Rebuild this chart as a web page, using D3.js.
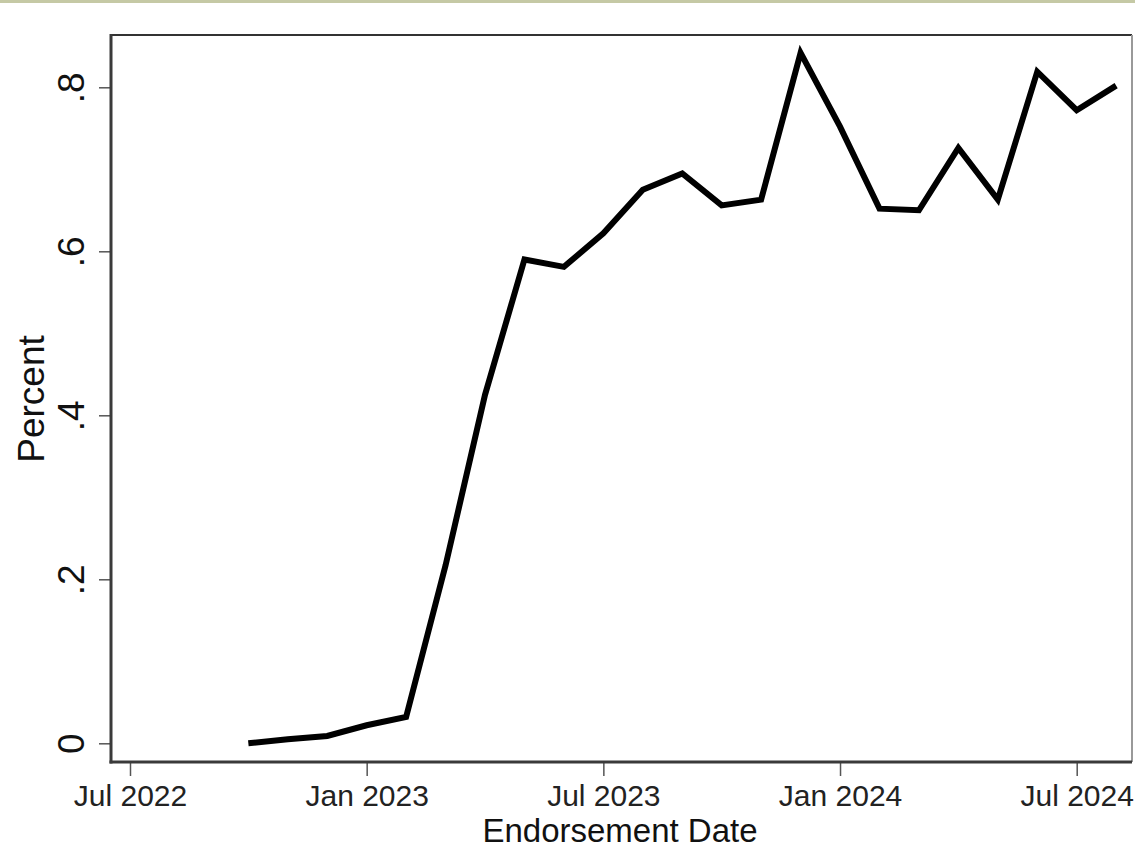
<!DOCTYPE html>
<html>
<head>
<meta charset="utf-8">
<script src="https://cdn.jsdelivr.net/npm/d3@7"></script>
<style>
  html, body { margin: 0; padding: 0; background: #fff; }
  svg { display: block; font-family: "Liberation Sans", Arial, sans-serif; }
</style>
</head>
<body>
<svg id="chart" width="1135" height="849"></svg>
<script>
// Monthly share of endorsements
const months = ["2022-10","2022-11","2022-12","2023-01","2023-02","2023-03","2023-04","2023-05",
  "2023-06","2023-07","2023-08","2023-09","2023-10","2023-11","2023-12","2024-01",
  "2024-02","2024-03","2024-04","2024-05","2024-06","2024-07","2024-08"];
const percent = [0.000, 0.005, 0.009, 0.022, 0.032, 0.217, 0.425, 0.590,
  0.581, 0.622, 0.675, 0.695, 0.656, 0.663, 0.842, 0.752,
  0.652, 0.650, 0.726, 0.663, 0.819, 0.772, 0.802];

const xTickMonths = ["2022-07","2023-01","2023-07","2024-01","2024-07"];
const xTickLabels = ["Jul 2022","Jan 2023","Jul 2023","Jan 2024","Jul 2024"];
const yTicks = [0, 0.2, 0.4, 0.6, 0.8];
const yTickLabels = ["0", ".2", ".4", ".6", ".8"];

// month string -> months since Jul 2022
const mIndex = s => { const [y, m] = s.split("-").map(Number); return (y - 2022) * 12 + (m - 7); };

const svg = d3.select("#chart");
const W = 1135, H = 849;
const plot = { left: 111, top: 35, right: 1132, bottom: 762 };

// header band
svg.append("rect").attr("x", 0).attr("y", 0).attr("width", W).attr("height", 3).attr("fill", "#c5c9a5");

const x = d3.scaleLinear().domain([0, 24]).range([130, 1076.7]);
const y = d3.scaleLinear().domain([0, 0.8]).range([743.3, 87.3]);

// plot frame
svg.append("line").attr("x1", plot.left).attr("x2", plot.right).attr("y1", plot.top).attr("y2", plot.top)
  .attr("stroke", "#333").attr("stroke-width", 2);
svg.append("line").attr("x1", plot.right).attr("x2", plot.right).attr("y1", plot.top).attr("y2", plot.bottom)
  .attr("stroke", "#999").attr("stroke-width", 2);

// y axis
const yAxis = d3.axisLeft(y).tickValues(yTicks).tickFormat((d, i) => yTickLabels[i])
  .tickSize(12).tickSizeOuter(0).tickPadding(0);
const gy = svg.append("g").attr("transform", `translate(${plot.left},0)`).call(yAxis);
gy.select(".domain").remove();
gy.selectAll(".tick line").attr("stroke", "#555").attr("stroke-width", 1.5);
gy.selectAll(".tick text")
  .attr("x", null).attr("dy", null)
  .attr("transform", `translate(${84 - plot.left},0) rotate(-90)`)
  .attr("text-anchor", "middle")
  .attr("font-size", 37).attr("fill", "#111");

// x axis
const xAxis = d3.axisBottom(x).tickValues(xTickMonths.map(mIndex))
  .tickFormat((d, i) => xTickLabels[i]).tickSize(14).tickSizeOuter(0).tickPadding(0);
const gx = svg.append("g").attr("transform", `translate(0,${plot.bottom})`).call(xAxis);
gx.select(".domain").remove();
gx.selectAll(".tick line").attr("stroke", "#555").attr("stroke-width", 1.5);
gx.selectAll(".tick text")
  .attr("y", 806 - plot.bottom).attr("dy", null)
  .attr("font-size", 30).attr("fill", "#222");

// axis lines
svg.append("line").attr("x1", plot.left).attr("x2", plot.left).attr("y1", plot.top - 1).attr("y2", plot.bottom + 1.5)
  .attr("stroke", "#3a3a3a").attr("stroke-width", 3);
svg.append("line").attr("x1", plot.left - 1.5).attr("x2", plot.right).attr("y1", plot.bottom).attr("y2", plot.bottom)
  .attr("stroke", "#3a3a3a").attr("stroke-width", 3);

// series line
const line = d3.line().x((d, i) => x(mIndex(months[i]))).y(d => y(d));
svg.append("path").datum(percent).attr("d", line)
  .attr("fill", "none").attr("stroke", "#000").attr("stroke-width", 6)
  .attr("stroke-linejoin", "miter").attr("stroke-miterlimit", 10);

// axis titles
svg.append("text").attr("x", 620).attr("y", 842).attr("text-anchor", "middle")
  .attr("font-size", 33).attr("fill", "#111").text("Endorsement Date");
svg.append("text").attr("transform", "translate(44,399) rotate(-90)").attr("text-anchor", "middle")
  .attr("font-size", 37).attr("fill", "#111").text("Percent");
</script>
</body>
</html>
